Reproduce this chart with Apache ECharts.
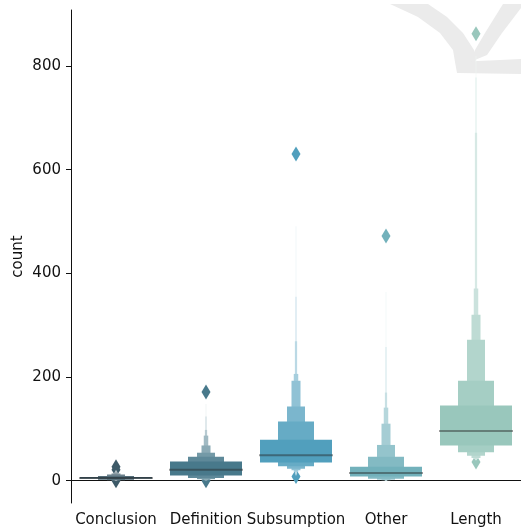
<!DOCTYPE html>
<html>
<head>
<meta charset="utf-8">
<script src="https://cdn.jsdelivr.net/npm/echarts@6/dist/echarts.min.js"></script>
<style>
  html, body { margin: 0; padding: 0; background: #fff; }
  #chart { width: 521px; height: 529px; }
</style>
</head>
<body>
<div id="chart"></div>
<script>
// categories and per-category base colour
var categories = ['Conclusion', 'Definition', 'Subsumption', 'Other', 'Length'];
var baseColors = ['#3d5a68', '#48798b', '#519fbd', '#72b1bb', '#99c7bc'];

// letter-value boxes, level 0 = widest (middle 50%), then outward
var conclusionHigh = [7, 9, 12, 14, 16, 18, 19, 20];
var conclusionLow  = [4, 2, 1, 1, 1, 0, 0, 0];
var definitionHigh = [37, 46, 54, 68, 87, 98, 124, 148];
var definitionLow  = [10, 5, 3, 2, 1, 1, 1, 1];
var subsumptionHigh = [79, 114, 143, 193, 206, 269, 355, 491];
var subsumptionLow  = [35, 28, 23, 20, 17, 14, 12, 10];
var otherHigh = [27, 46, 69, 110, 141, 170, 258, 364];
var otherLow  = [8, 4, 2, 1, 1, 0, 0, 0];
var lengthHigh = [145, 193, 272, 320, 371, 671, 778, 819];
var lengthLow  = [68, 55, 48, 44, 42, 41, 40, 39];

var medians = [5, 21, 49, 15, 96];

// outliers: [category, value]
var outliers = [
  ['Conclusion', 27], ['Conclusion', 21], ['Conclusion', 0],
  ['Definition', 171], ['Definition', 0],
  ['Subsumption', 630], ['Subsumption', 8],
  ['Other', 472],
  ['Length', 862], ['Length', 36]
];

var yTicks = [0, 200, 400, 600, 800];

var highs = [conclusionHigh, definitionHigh, subsumptionHigh, otherHigh, lengthHigh];
var lows = [conclusionLow, definitionLow, subsumptionLow, otherLow, lengthLow];

// build box data, outer (narrow) levels first so the wide ones sit on top
var boxData = [];
for (var c = 0; c < categories.length; c++) {
  for (var l = highs[c].length - 1; l >= 0; l--) {
    boxData.push([c, lows[c][l], highs[c][l], l]);
  }
}
var medianData = medians.map(function (m, i) { return [i, m]; });
var outlierData = outliers.map(function (o) { return [categories.indexOf(o[0]), o[1]]; });

function hexToRgb(h) {
  return [parseInt(h.substr(1, 2), 16), parseInt(h.substr(3, 2), 16), parseInt(h.substr(5, 2), 16)];
}
// lighter colour for boxes farther from the median
function shade(hex, lvl) {
  var f = 0.85 * lvl / 7;
  var rgb = hexToRgb(hex).map(function (v) { return Math.round(v + (255 - v) * f); });
  return 'rgb(' + rgb.join(',') + ')';
}

var myChart = echarts.init(document.getElementById('chart'), null, { renderer: 'canvas' });

var font = 'DejaVu Sans';
var ink = '#111';
var wm = '#ebebeb';

var option = {
  animation: false,
  backgroundColor: '#fff',
  textStyle: { fontFamily: font },
  grid: { left: 71, top: 10, width: 452, bottom: 26 },
  graphic: [
    // faint watermark in the top right corner
    { type: 'polygon', z: 0, silent: true,
      shape: { points: [[390, 4], [428, 4], [447, 17], [463, 33], [474, 50], [476, 60], [470, 73], [457, 73], [455, 62], [453, 50], [440, 33], [418, 17]] },
      style: { fill: wm } },
    { type: 'polygon', z: 0, silent: true,
      shape: { points: [[503, 4], [521, 4], [521, 8], [502, 33], [487, 55], [470, 62], [475, 50], [485, 33]] },
      style: { fill: wm } },
    { type: 'polygon', z: 0, silent: true,
      shape: { points: [[457, 62], [521, 59], [521, 74], [458, 73]] },
      style: { fill: wm } }
  ],
  xAxis: {
    type: 'category',
    data: categories,
    boundaryGap: true,
    axisLine: { lineStyle: { color: ink, width: 1 } },
    axisTick: { alignWithLabel: true, length: 5, lineStyle: { color: ink } },
    axisLabel: { color: ink, fontSize: 15, fontFamily: font, margin: 10, interval: 0 },
    splitLine: { show: false }
  },
  yAxis: {
    type: 'value',
    min: -43,
    max: 908,
    name: 'count',
    nameLocation: 'middle',
    nameGap: 45,
    nameMoveOverlap: false,
    nameTextStyle: { color: ink, fontSize: 15, fontFamily: font },
    axisLine: { show: true, lineStyle: { color: ink, width: 1 } },
    axisTick: { show: true, length: 5, customValues: yTicks, lineStyle: { color: ink } },
    axisLabel: { color: ink, fontSize: 15, fontFamily: font, margin: 10, customValues: yTicks },
    splitLine: { show: false }
  },
  series: [
    {
      type: 'scatter',
      z: 2,
      data: outlierData,
      symbol: 'diamond',
      symbolSize: [9, 15],
      itemStyle: {
        color: function (p) { return baseColors[p.value[0]]; },
        opacity: 1
      }
    },
    {
      type: 'custom',
      z: 3,
      data: boxData,
      renderItem: function (params, api) {
        var cat = api.value(0), lo = api.value(1), hi = api.value(2), lvl = api.value(3);
        var bandW = api.size([1, 0])[0];
        var w = bandW * 0.8 / Math.pow(2, lvl);
        var top = api.coord([cat, hi]);
        var bot = api.coord([cat, lo]);
        return {
          type: 'rect',
          shape: { x: top[0] - w / 2, y: top[1], width: w, height: bot[1] - top[1] },
          style: { fill: shade(baseColors[cat], lvl) }
        };
      }
    },
    {
      type: 'custom',
      z: 4,
      data: medianData,
      renderItem: function (params, api) {
        var cat = api.value(0);
        var bandW = api.size([1, 0])[0];
        var w = bandW * 0.8;
        var p = api.coord([cat, api.value(1)]);
        return {
          type: 'line',
          shape: { x1: p[0] - w / 2 - 1, y1: p[1], x2: p[0] + w / 2 + 1, y2: p[1] },
          style: { stroke: 'rgba(38,38,38,0.45)', lineWidth: 2 }
        };
      }
    }
  ]
};

myChart.setOption(option);
</script>
</body>
</html>
